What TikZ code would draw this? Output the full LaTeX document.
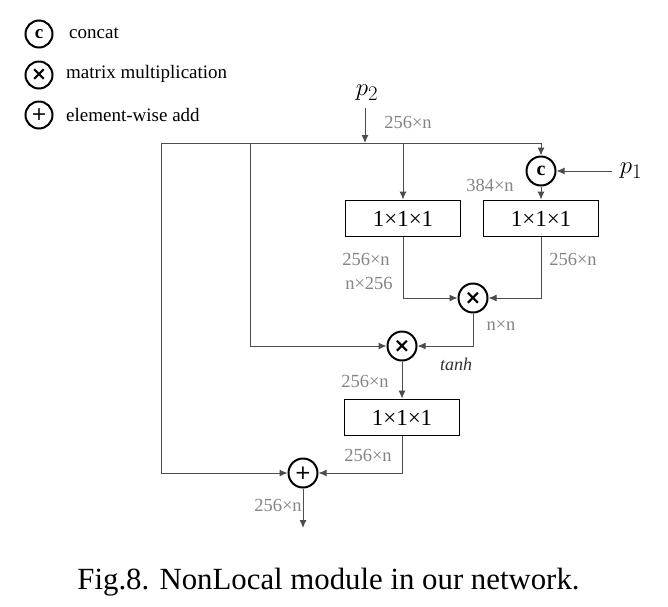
\documentclass[tikz,border=0pt]{standalone}
\usepackage{amsmath}
\usepackage{fontspec}
\setmainfont{Liberation Serif}
\newfontfamily\symfont{DejaVu Sans}
\usetikzlibrary{arrows.meta}
\newcommand{\mulsym}{{\symfont\bfseries ×}}
\newcommand{\addsym}{{\symfont +}}
\begin{document}
\begin{tikzpicture}[x=1pt,y=-1pt,
  op/.style={circle,draw,line width=2pt,minimum size=29pt,inner sep=0pt,font=\fontsize{20}{20}\selectfont},
  legop/.style={circle,draw,line width=2pt,minimum size=27pt,inner sep=0pt,font=\fontsize{19}{19}\selectfont},
  convbox/.style={draw,line width=1.9pt,minimum width=115pt,minimum height=36pt,inner sep=0pt,font=\fontsize{23}{23}\selectfont},
  dimlbl/.style={text=black!48,font=\fontsize{18.5}{18.5}\selectfont,inner sep=0pt},
  leglbl/.style={anchor=west,inner sep=0pt,font=\fontsize{19}{19}\selectfont},
  wire/.style={draw=black!70,line width=1pt},
  arr/.style={wire,-{Latex[length=8pt,width=7pt]}}
]
\useasboundingbox (0,0) rectangle (668,606);
\fill[white] (0,0) rectangle (668,606);

% legend
\node[legop] (lc) at (39,34) {\textbf{c}};
\node[legop] (lm) at (39,75) {\mulsym};
\node[legop] (la) at (39,115) {\addsym};
\node[leglbl] (lct) at (69,33) {concat};
\node[leglbl] (lmt) at (66,74) {matrix multiplication};
\node[leglbl] (lat) at (66,115) {element-wise add};

% inputs
\node[font=\fontsize{28}{28}\selectfont,inner sep=0pt] (p2) at (367,93) {$p_2$};
\node[font=\fontsize{28}{28}\selectfont,inner sep=0pt] (p1) at (631,171) {$p_1$};
\coordinate (p2s) at (365,108);
\coordinate (j) at (365,143);
\coordinate (tl) at (161,143);
\coordinate (tb) at (250,143);
\coordinate (tc) at (403,143);
\coordinate (p1s) at (612,171);
\coordinate (out) at (303,528);

% operators
\node[op] (cat) at (541,171) {\textbf{c}};
\node[op] (mul1) at (473,298) {\mulsym};
\node[op] (mul2) at (402,346) {\mulsym};
\node[op] (add) at (303,473) {\addsym};

% boxes
\node[convbox] (box1) at (403,218.5) {1×1×1};
\node[convbox] (box2) at (541,218.5) {1×1×1};
\node[convbox] (box3) at (402,417.5) {1×1×1};

% connectors
\draw[arr] (p2s) -- (j);
\draw[arr] (tl) -| (cat);
\draw[arr] (tl) |- (add);
\draw[arr] (tb) |- (mul2);
\draw[arr] (tc) -- (box1);
\draw[arr] (p1s) -- (cat);
\draw[arr] (cat) -- (box2);
\draw[arr] (box1) |- (mul1);
\draw[arr] (box2) |- (mul1);
\draw[arr] (mul1) |- (mul2);
\draw[arr] (mul2) -- (box3);
\draw[arr] (box3) |- (add);
\draw[arr] (add) -- (out);

% dimension labels
\node[dimlbl] (d1) at (408,122) {256×n};
\node[dimlbl] (d2) at (490,185) {384×n};
\node[dimlbl] (d3) at (366,259) {256×n};
\node[dimlbl] (d4) at (369,283) {n×256};
\node[dimlbl] (d5) at (573,259) {256×n};
\node[dimlbl] (d6) at (501,326) {n×n};
\node[inner sep=0pt,text=black!80,font=\fontsize{18}{18}\selectfont\itshape] (th) at (456,364) {tanh};
\node[dimlbl] (d7) at (365,381) {256×n};
\node[dimlbl] (d8) at (368,455) {256×n};
\node[dimlbl] (d9) at (278,505) {256×n};

% caption
\node[font=\fontsize{30.8}{31}\selectfont,inner sep=0pt,anchor=base] (cap) at (328.5,589) {Fig.8. NonLocal module in our network.};
\end{tikzpicture}
\end{document}
